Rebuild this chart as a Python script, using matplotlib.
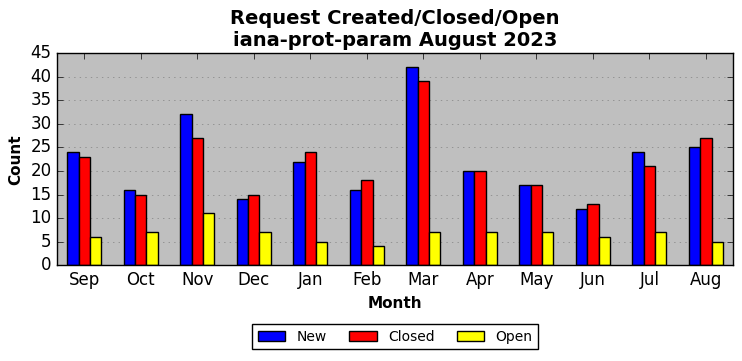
import matplotlib
matplotlib.use("Agg")
import matplotlib.pyplot as plt
import numpy as np

months = ["Sep", "Oct", "Nov", "Dec", "Jan", "Feb", "Mar", "Apr", "May", "Jun", "Jul", "Aug"]
new = [24, 16, 32, 14, 22, 16, 42, 20, 17, 12, 24, 25]
closed = [23, 15, 27, 15, 24, 18, 39, 20, 17, 13, 21, 27]
open_ = [6, 7, 11, 7, 5, 4, 7, 7, 7, 6, 7, 5]

plt.style.use("classic")
fig, ax = plt.subplots(figsize=(7.42, 3.61), dpi=100)
fig.patch.set_facecolor("white")
ax.set_facecolor("#bfbfbf")

x = np.arange(len(months))
w = 0.2
ax.bar(x - w, new, w, color="blue", edgecolor="black", label="New", align="center")
ax.bar(x, closed, w, color="red", edgecolor="black", label="Closed", align="center")
ax.bar(x + w, open_, w, color="yellow", edgecolor="black", label="Open", align="center")

ax.set_xticks(x)
ax.set_xticklabels(months)
ax.set_xlim(-0.48, 11.48)
ax.set_ylim(0, 45)
ax.set_yticks(range(0, 46, 5))
ax.yaxis.grid(True, linestyle=":", color="gray")
ax.set_axisbelow(True)
ax.tick_params(labelsize=12)

ax.set_title("Request Created/Closed/Open\niana-prot-param August 2023", fontsize=14, fontweight="bold")
ax.set_xlabel("Month", fontsize=11, fontweight="bold")
ax.set_ylabel("Count", fontsize=11, fontweight="bold")

ax.legend(loc="upper center", bbox_to_anchor=(0.5, -0.245), ncol=3, fontsize=10,
          handlelength=2.0, columnspacing=1.6)

fig.subplots_adjust(left=0.077, right=0.988, top=0.853, bottom=0.265)
fig.savefig("out.png", dpi=100)
